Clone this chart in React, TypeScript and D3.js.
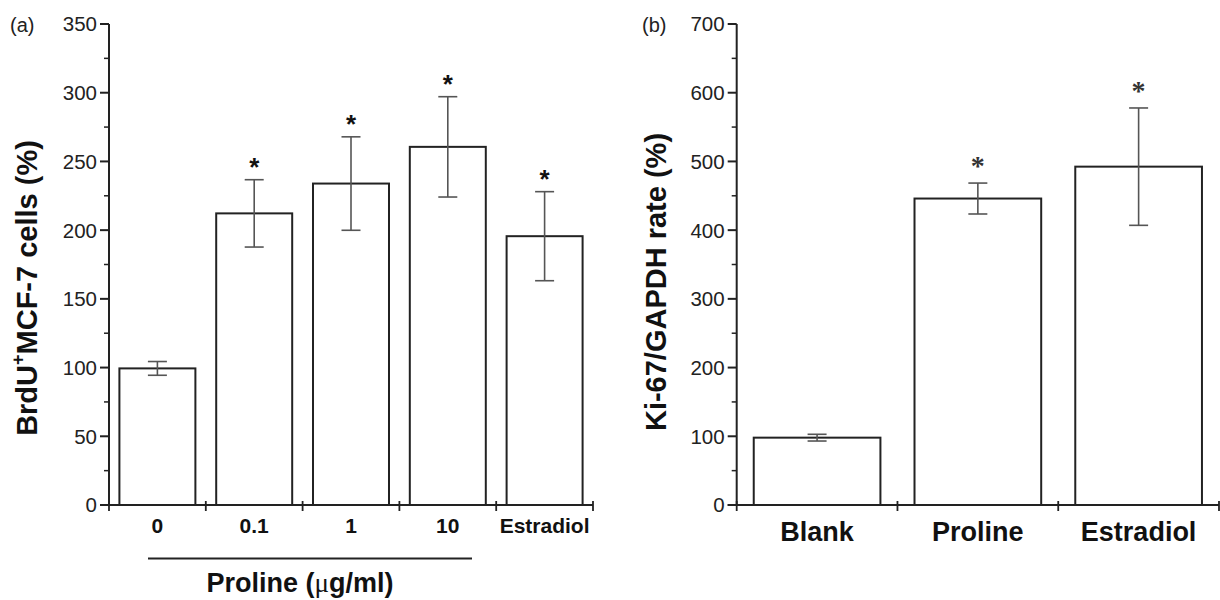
import React from "react";
import * as d3 from "d3";

// Panel (a)
const catsA = ["0", "0.1", "1", "10", "Estradiol"];
const valuesA = [99.4, 212.2, 233.9, 260.6, 195.6];
const errA = [5, 24.5, 34, 36.5, 32.4];
const sigA = [false, true, true, true, true];
const yTicksA = [0, 50, 100, 150, 200, 250, 300, 350];
const yMinorA = [25, 75, 125, 175, 225, 275, 325];

// Panel (b)
const catsB = ["Blank", "Proline", "Estradiol"];
const valuesB = [98, 446, 492.4];
const errB = [4.9, 22.5, 85.4];
const sigB = [false, true, true];
const yTicksB = [0, 100, 200, 300, 400, 500, 600, 700];
const yMinorB = [50, 150, 250, 350, 450, 550, 650];

const SANS = "'Liberation Sans', Arial, sans-serif";
const AXIS = "#222";

type PanelProps = {
  cats: string[];
  values: number[];
  err: number[];
  sig: boolean[];
  yMax: number;
  yTicks: number[];
  yMinor: number[];
  x0: number;
  x1: number;
  pad: number;
  xLabelSize: number;
  xLabelY: number;
  starFont: string;
  starSize: number;
  starWeight: string;
  starColor: string;
  starOffset: number;
};

function Panel(p: PanelProps) {
  const y = d3.scaleLinear().domain([0, p.yMax]).range([505, 24]);
  const x = d3
    .scaleBand<string>()
    .domain(p.cats)
    .range([p.x0, p.x1])
    .paddingInner(p.pad)
    .paddingOuter(p.pad / 2);
  const step = x.step();
  const xTickPos = d3.range(p.cats.length + 1).map((i) => p.x0 + i * step);
  const bw = x.bandwidth();
  const capW = 19;
  return (
    <g>
      {/* bars */}
      {p.cats.map((c, i) => (
        <rect
          key={"b" + c}
          x={x(c)}
          y={y(p.values[i])}
          width={bw}
          height={y(0) - y(p.values[i])}
          fill="#fff"
          stroke={AXIS}
          strokeWidth={2}
        />
      ))}
      {/* error bars */}
      {p.cats.map((c, i) => {
        const cx = (x(c) as number) + bw / 2;
        const top = y(p.values[i] + p.err[i]);
        const bot = y(p.values[i] - p.err[i]);
        return (
          <g key={"e" + c} stroke="#555" strokeWidth={1.6}>
            <line x1={cx} x2={cx} y1={top} y2={bot} />
            <line x1={cx - capW / 2} x2={cx + capW / 2} y1={top} y2={top} />
            <line x1={cx - capW / 2} x2={cx + capW / 2} y1={bot} y2={bot} />
            {p.sig[i] && (
              <text
                x={cx}
                y={top - p.starOffset}
                textAnchor="middle"
                fontFamily={p.starFont}
                fontSize={p.starSize}
                fontWeight={p.starWeight}
                fill={p.starColor}
                stroke="none"
              >
                *
              </text>
            )}
          </g>
        );
      })}
      {/* y axis */}
      <line x1={p.x0} x2={p.x0} y1={y(p.yMax)} y2={y(0)} stroke={AXIS} strokeWidth={2} />
      {p.yTicks.map((t) => (
        <g key={"yt" + t}>
          <line x1={p.x0 - 9} x2={p.x0} y1={y(t)} y2={y(t)} stroke={AXIS} strokeWidth={2} />
          <text
            x={p.x0 - 12}
            y={y(t)}
            dy="0.36em"
            textAnchor="end"
            fontFamily={SANS}
            fontSize={20.5}
            fill="#222"
          >
            {t}
          </text>
        </g>
      ))}
      {p.yMinor.map((t) => (
        <line key={"ym" + t} x1={p.x0 - 5} x2={p.x0} y1={y(t)} y2={y(t)} stroke={AXIS} strokeWidth={1.5} />
      ))}
      {/* x axis */}
      <line x1={p.x0 - 9} x2={p.x1} y1={y(0)} y2={y(0)} stroke={AXIS} strokeWidth={2} />
      {xTickPos.map((tx, i) => (
        <line key={"xt" + i} x1={tx} x2={tx} y1={y(0) - 4} y2={y(0) + 6} stroke={AXIS} strokeWidth={1.8} />
      ))}
      {p.cats.map((c) => (
        <text
          key={"xl" + c}
          x={(x(c) as number) + bw / 2}
          y={p.xLabelY}
          textAnchor="middle"
          fontFamily={SANS}
          fontWeight="bold"
          fontSize={p.xLabelSize}
          fill="#111"
        >
          {c}
        </text>
      ))}
    </g>
  );
}

export default function App() {
  return (
    <svg
      width={1220}
      height={600}
      viewBox="0 0 1220 600"
      style={{ position: "absolute", left: 0, top: 0, background: "#fff" }}
    >
      <rect x={0} y={0} width={1220} height={600} fill="#fff" />
      {/* Panel (a) */}
      <text x={10} y={32} fontFamily={SANS} fontSize={20} fill="#222">
        (a)
      </text>
      <Panel
        cats={catsA}
        values={valuesA}
        err={errA}
        sig={sigA}
        yMax={350}
        yTicks={yTicksA}
        yMinor={yMinorA}
        x0={109}
        x1={593}
        pad={0.215}
        xLabelSize={21}
        xLabelY={533}
        starFont={SANS}
        starSize={26}
        starWeight="bold"
        starColor="#111"
        starOffset={4}
      />
      <text
        transform="translate(37,288) rotate(-90)"
        textAnchor="middle"
        fontFamily={SANS}
        fontWeight="bold"
        fontSize={29}
        fill="#111"
      >
        BrdU
        <tspan fontSize={18} dy={-13}>
          +
        </tspan>
        <tspan dy={13}>MCF-7 cells (%)</tspan>
      </text>
      <line x1={148} x2={472} y1={558.5} y2={558.5} stroke={AXIS} strokeWidth={1.8} />
      <text x={300} y={592} textAnchor="middle" fontFamily={SANS} fontWeight="bold" fontSize={27} fill="#111">
        Proline (
        <tspan fontFamily="'Liberation Serif', 'Times New Roman', serif" fontWeight="normal">
          μ
        </tspan>
        g/ml)
      </text>

      {/* Panel (b) */}
      <text x={642} y={32} fontFamily={SANS} fontSize={20} fill="#222">
        (b)
      </text>
      <Panel
        cats={catsB}
        values={valuesB}
        err={errB}
        sig={sigB}
        yMax={700}
        yTicks={yTicksB}
        yMinor={yMinorB}
        x0={736.7}
        x1={1219}
        pad={0.212}
        xLabelSize={27}
        xLabelY={541}
        starFont="'Liberation Serif', 'Times New Roman', serif"
        starSize={28}
        starWeight="bold"
        starColor="#333"
        starOffset={8}
      />
      <text
        transform="translate(666,282) rotate(-90)"
        textAnchor="middle"
        fontFamily={SANS}
        fontWeight="bold"
        fontSize={29}
        fill="#111"
      >
        Ki-67/GAPDH rate (%)
      </text>
    </svg>
  );
}
